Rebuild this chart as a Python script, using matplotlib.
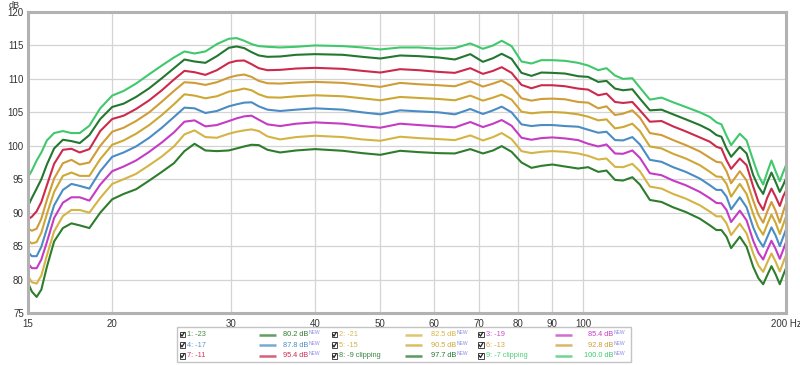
import matplotlib
matplotlib.use("Agg")
import matplotlib.pyplot as plt
from matplotlib.ticker import NullLocator, FixedLocator, FixedFormatter
from matplotlib.patches import Rectangle

plt.rcParams['font.family'] = ['Liberation Sans', 'DejaVu Sans']

# ---------------- data ----------------
freq = [15.0, 15.2, 15.45, 15.7, 16.0, 16.4, 16.9, 17.4, 17.9, 18.5, 19.2, 20.0,
        20.8, 21.7, 22.7, 23.7, 24.7, 25.6, 26.5, 27.5, 28.6, 29.8,
        30.6, 31.4, 32.2, 33.0, 34.0, 35.5, 37.5, 40.0, 44.0, 47.0, 50.0, 53.5, 57.0, 61.0,
        64.5, 68.0, 71.0, 73.5, 75.7, 78.3, 81.0, 83.8, 86.7, 90.0, 94.0, 98.3, 101.7, 105.3, 108.3, 111.5,
        114.6, 118.3, 121.4, 125.6, 130.7, 136.0, 142.0, 149.0, 154.2, 157.7, 160.4, 163.2, 165.8,
        170.8, 174.8, 178.8, 182.0, 185.0, 187.5, 190.3, 193.0, 195.8, 198.0, 200.0]

s1 = [79.5, 78.2, 77.4, 78.5, 81.9, 85.7, 87.7, 88.4, 88.1, 87.7, 90.0, 92.0,
      92.8, 93.5, 94.8, 96.1, 97.4, 99.2, 100.3, 99.3, 99.2, 99.3,
      99.6, 99.9, 100.15, 100.1, 99.4, 99.0, 99.3, 99.5, 99.25, 98.9, 98.65, 99.25, 99.05, 98.9,
      98.85, 99.5, 98.85, 99.3, 99.95, 99.1, 97.5, 96.7, 97.0, 97.2, 96.9, 96.6, 96.8, 96.1, 96.3, 94.9,
      94.8, 95.3, 94.2, 91.9, 91.6, 90.8, 90.1, 89.1, 88.1, 87.4, 87.4, 86.4, 84.7,
      86.4, 84.9, 81.9, 80.2, 79.3, 80.6, 82.0, 80.8, 79.3, 80.6, 81.7]

s2 = [80.5, 79.6, 79.4, 80.6, 83.6, 87.2, 89.5, 90.4, 90.4, 90.0, 92.2, 94.3,
      95.0, 95.8, 97.1, 98.4, 99.9, 101.7, 102.3, 101.3, 101.2, 101.8,
      102.1, 102.3, 102.45, 102.2, 101.4, 100.95, 101.3, 101.5, 101.3, 100.95, 100.75, 101.35, 101.15, 101.0,
      100.85, 101.55, 100.8, 101.3, 101.9, 101.0, 99.2, 98.9, 99.1, 99.2, 99.1, 98.85, 98.5, 97.95, 98.1, 96.85,
      96.8, 97.3, 96.2, 93.9, 93.6, 92.8, 92.1, 91.1, 90.15, 89.45, 89.45, 88.4, 86.65,
      88.35, 86.9, 83.9, 82.1, 81.15, 82.5, 83.9, 82.7, 81.2, 82.5, 83.65]

s3 = [82.4, 81.7, 81.7, 83.0, 85.6, 89.2, 91.5, 92.3, 92.3, 91.8, 94.2, 96.2,
      96.9, 97.8, 99.1, 100.5, 102.0, 103.6, 103.8, 102.9, 103.1, 103.7,
      104.1, 104.4, 104.5, 103.9, 103.2, 102.95, 103.3, 103.5, 103.3, 102.95, 102.7, 103.3, 103.1, 102.9,
      102.75, 103.55, 102.8, 103.3, 103.85, 103.0, 101.2, 100.9, 101.15, 101.25, 101.1, 100.85, 100.3, 99.9, 100.2, 98.85,
      98.8, 99.3, 98.2, 95.9, 95.6, 94.8, 94.1, 93.1, 92.15, 91.45, 91.4, 90.4, 88.6,
      90.3, 88.85, 85.8, 84.0, 83.0, 84.4, 85.8, 84.6, 83.1, 84.4, 85.6]

s4 = [84.1, 83.5, 83.5, 84.9, 87.6, 91.1, 93.4, 94.3, 94.0, 93.6, 96.2, 98.35,
      99.0, 99.9, 101.2, 102.7, 104.3, 105.7, 105.6, 104.9, 105.2, 105.9,
      106.2, 106.45, 106.5, 105.9, 105.4, 105.2, 105.4, 105.6, 105.4, 105.0, 104.7, 105.3, 105.15, 105.0,
      104.7, 105.5, 104.75, 105.3, 105.85, 105.0, 103.2, 102.95, 103.1, 103.1, 102.95, 102.85, 102.4, 101.95, 102.1, 100.85,
      100.8, 101.3, 100.2, 97.9, 97.6, 96.8, 96.1, 95.1, 94.1, 93.4, 93.4, 92.4, 90.5,
      92.3, 90.8, 87.8, 86.0, 84.9, 86.3, 87.8, 86.6, 85.0, 86.3, 87.5]

s5 = [85.8, 85.4, 85.6, 87.0, 89.8, 93.1, 95.5, 96.0, 95.5, 95.5, 98.0, 100.15,
      100.8, 101.8, 103.1, 104.6, 106.2, 107.7, 107.5, 107.1, 107.4, 108.1,
      108.3, 108.55, 108.3, 107.7, 107.25, 107.2, 107.4, 107.55, 107.4, 107.1, 106.8, 107.3, 107.15, 107.0,
      106.8, 107.5, 106.75, 107.2, 107.65, 106.9, 105.1, 104.85, 105.0, 105.05, 104.95, 104.7, 104.35, 103.8, 103.95, 102.6,
      102.8, 103.3, 102.2, 99.9, 99.6, 98.8, 98.1, 97.1, 96.1, 95.4, 95.35, 94.3, 92.4,
      94.3, 92.8, 89.8, 87.8, 86.7, 88.2, 89.7, 88.5, 86.8, 88.2, 89.4]

s6 = [87.6, 87.3, 87.6, 89.1, 91.9, 95.1, 97.4, 97.9, 97.2, 97.5, 100.0, 102.1,
      102.7, 103.7, 105.0, 106.6, 108.2, 109.5, 109.4, 109.1, 109.5, 110.2,
      110.5, 110.65, 110.3, 109.7, 109.35, 109.3, 109.45, 109.55, 109.4, 109.1, 108.8, 109.4, 109.2, 109.05,
      108.9, 109.65, 108.85, 109.3, 109.75, 108.9, 107.1, 106.75, 107.0, 107.05, 106.95, 106.55, 106.45, 105.6, 105.9, 104.6,
      104.8, 105.3, 104.2, 101.9, 101.6, 100.85, 100.1, 99.15, 98.2, 97.6, 97.5, 96.2, 94.4,
      96.2, 94.8, 91.8, 89.7, 88.5, 90.1, 91.6, 90.3, 88.5, 90.1, 91.4]

s7 = [89.0, 89.4, 90.2, 91.6, 94.1, 97.3, 99.4, 99.55, 99.0, 99.5, 102.2, 104.0,
      104.5, 105.5, 106.8, 108.3, 109.9, 111.2, 111.0, 110.6, 111.3, 112.4,
      112.7, 112.75, 112.2, 111.6, 111.3, 111.35, 111.55, 111.65, 111.5, 111.2, 110.95, 111.45, 111.3, 111.05,
      110.9, 111.6, 110.75, 111.2, 111.75, 110.9, 109.1, 108.6, 109.05, 109.05, 108.9, 108.55, 108.4, 107.55, 107.8, 106.55,
      106.4, 106.55, 105.3, 103.6, 103.7, 102.9, 102.15, 101.25, 100.6, 99.85, 99.6, 97.85, 96.55,
      98.1, 97.1, 93.9, 91.6, 90.4, 92.2, 93.6, 92.4, 91.0, 92.4, 93.3]

s8 = [91.0, 92.2, 93.6, 95.0, 97.2, 99.6, 100.9, 100.7, 100.4, 101.6, 104.0, 105.8,
      106.3, 107.3, 108.6, 110.1, 111.6, 112.9, 112.6, 112.4, 113.4, 114.65,
      114.85, 114.6, 114.0, 113.5, 113.3, 113.35, 113.6, 113.7, 113.6, 113.3, 113.05, 113.5, 113.4, 113.2,
      112.9, 113.7, 112.55, 113.1, 113.75, 113.0, 110.9, 110.45, 110.95, 110.9, 110.8, 110.4, 110.3, 109.55, 109.7, 108.55,
      108.3, 108.45, 107.05, 105.3, 105.4, 104.7, 103.95, 103.1, 102.35, 101.6, 101.35, 99.6, 98.35,
      99.85, 98.85, 95.6, 93.9, 92.8, 94.5, 96.0, 94.6, 93.1, 94.1, 95.1]

s9 = [95.3, 96.3, 97.8, 99.0, 100.8, 101.9, 102.2, 101.9, 101.9, 103.0, 105.6, 107.5,
      108.2, 109.3, 110.7, 112.0, 113.2, 114.1, 113.8, 114.1, 115.2, 116.0,
      116.1, 115.7, 115.2, 114.9, 114.8, 114.7, 114.8, 115.0, 114.9, 114.7, 114.4, 114.7, 114.7, 114.5,
      114.6, 115.3, 114.5, 115.0, 115.7, 114.9, 112.6, 112.3, 112.8, 112.8, 112.7, 112.4, 112.0, 111.3, 111.6, 110.5,
      110.0, 110.1, 108.7, 106.9, 107.2, 106.5, 105.8, 105.0, 104.3, 103.5, 103.2, 101.5, 100.1,
      101.8, 100.8, 97.8, 95.6, 94.2, 96.0, 97.8, 96.2, 94.7, 96.0, 97.1]

series = [s1, s2, s3, s4, s5, s6, s7, s8, s9]
names = ["1: -23", "2: -21", "3: -19", "4: -17", "5: -15", "6: -13", "7: -11",
         "8: -9 clipping", "9: -7 clipping"]
levels = ["80.2 dB", "82.5 dB", "85.4 dB", "87.8 dB", "90.5 dB", "92.8 dB",
          "95.4 dB", "97.7 dB", "100.0 dB"]
colors = ["#2d7d2d", "#d4b444", "#c43cc4", "#4a8cc4", "#cda834", "#d09c38",
          "#cc2a4c", "#23772f", "#40c86c"]

x_ticks = [15, 20, 30, 40, 50, 60, 70, 80, 90, 100, 200]
x_labels = ["15", "20", "30", "40", "50", "60", "70", "80", "90", "100", "200 Hz"]
y_ticks = [75, 80, 85, 90, 95, 100, 105, 110, 115, 120]

# ---------------- figure ----------------
W, H = 800, 365
fig = plt.figure(figsize=(W / 100, H / 100), dpi=100)
fig.patch.set_facecolor("white")

L, R, T, B = 28, 786, 12, 313
ax = fig.add_axes([L / W, 1 - B / H, (R - L) / W, (B - T) / H])
ax.set_xscale("log")
ax.set_xlim(15, 200)
ax.set_ylim(75, 120)

ax.xaxis.set_major_locator(FixedLocator(x_ticks))
ax.xaxis.set_major_formatter(FixedFormatter(x_labels))
ax.xaxis.set_minor_locator(NullLocator())
ax.set_yticks(y_ticks)
ax.set_yticklabels([str(v) for v in y_ticks])
ax.tick_params(axis="both", length=0, labelsize=7, colors="#333333")
ax.tick_params(axis="x", pad=4)
ax.tick_params(axis="y", pad=3)
ax.grid(True, color="#d4d4d4", lw=0.9)
ax.set_axisbelow(True)
for sp in ax.spines.values():
    sp.set_color("#b2b2b2")
    sp.set_linewidth(2.2)

for s, c in zip(series, colors):
    ax.plot(freq, s, color=c, lw=1.5, solid_joinstyle="round")

fig.text(14 / W, 1 - 0.5 / H, "dB", fontsize=6.5, color="#333333", ha="center", va="top")

# ---------------- legend ----------------
lax = fig.add_axes([0, 0, 1, 1])
lax.set_xlim(0, W)
lax.set_ylim(H, 0)
lax.axis("off")
lax.add_patch(Rectangle((177, 327), 454, 35, facecolor="white", edgecolor="#c4c4c4", lw=1))

row_y = [334.5, 345.2, 355.8]
col_box = [179.5, 331.5, 478.0]
col_label = [187.0, 339.0, 486.0]
col_line = [(259, 276), (405, 422), (555, 572)]
col_val_end = [308.0, 456.5, 613.0]

for i in range(9):
    r, cidx = divmod(i, 3)
    y = row_y[r]
    bx = col_box[cidx]
    lax.add_patch(Rectangle((bx, y - 2.8), 5.6, 5.6, facecolor="white", edgecolor="#444444", lw=0.7))
    lax.plot([bx + 1.2, bx + 2.5, bx + 4.7], [y - 0.2, y + 1.7, y - 2.0], color="#222222", lw=0.9)
    lax.text(col_label[cidx], y, names[i], fontsize=5.3, color=colors[i], ha="left", va="center", alpha=0.9)
    x0, x1 = col_line[cidx]
    lax.plot([x0, x1], [y, y], color=colors[i], lw=1.8, alpha=0.75, solid_capstyle="butt")
    lax.text(col_val_end[cidx], y, levels[i], fontsize=5.3, color=colors[i], ha="right", va="center")
    lax.text(col_val_end[cidx] + 0.5, y - 2.0, "NEW", fontsize=3.6, color="#8c8ce6", ha="left", va="center")

fig.savefig("out.png", dpi=100, facecolor="white")
